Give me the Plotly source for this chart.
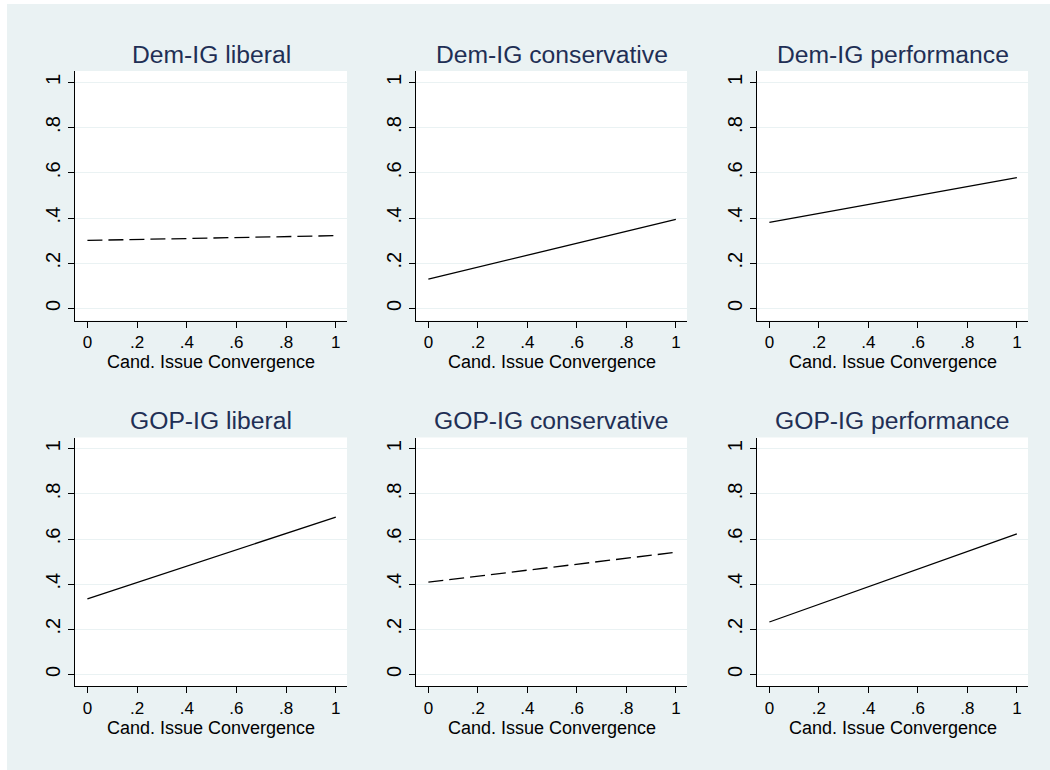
import plotly.graph_objects as go

titles = ["Dem-IG liberal", "Dem-IG conservative", "Dem-IG performance",
          "GOP-IG liberal", "GOP-IG conservative", "GOP-IG performance"]
x_vals = [0, 1]
y_dem_lib = [0.301, 0.322]
y_dem_con = [0.130, 0.394]
y_dem_perf = [0.381, 0.579]
y_gop_lib = [0.335, 0.697]
y_gop_con = [0.409, 0.541]
y_gop_perf = [0.232, 0.623]
series = [y_dem_lib, y_dem_con, y_dem_perf, y_gop_lib, y_gop_con, y_gop_perf]
dashed = [True, False, False, False, True, False]
tick_vals = [0, 0.2, 0.4, 0.6, 0.8, 1]
tick_text = ["0", ".2", ".4", ".6", ".8", "1"]
x_title = "Cand. Issue Convergence"

W, H = 1050, 770
BG = "#EAF2F3"
TITLE_COLOR = "#1F2F55"
FONT = "Liberation Sans, Arial, sans-serif"

col_px = [(75, 347), (416, 687), (757, 1028)]
row_px = [(71, 320.5), (437.5, 686.3)]

fig = go.Figure()
layout = dict(
    width=W, height=H, paper_bgcolor=BG, plot_bgcolor="white",
    margin=dict(l=0, r=0, t=0, b=0), showlegend=False,
    font=dict(family=FONT, color="black", size=18),
)
annotations = []
shapes = [
    dict(type="rect", xref="paper", yref="paper", x0=0, x1=1, y0=1 - 4 / H, y1=1,
         fillcolor="white", line=dict(width=0), layer="above"),
    dict(type="rect", xref="paper", yref="paper", x0=0, x1=7 / W, y0=0, y1=1,
         fillcolor="white", line=dict(width=0), layer="above"),
]

for i, (t, ys, d) in enumerate(zip(titles, series, dashed)):
    r, c = divmod(i, 3)
    n = "" if i == 0 else str(i + 1)
    x0, x1 = col_px[c]
    yt, yb = row_px[r]
    fig.add_trace(go.Scatter(
        x=x_vals, y=ys, mode="lines", xaxis="x" + n, yaxis="y" + n,
        line=dict(color="black", width=1.3, dash="15px,6px" if d else "solid"),
        hoverinfo="skip"))
    layout["xaxis" + n] = dict(
        domain=[x0 / W, x1 / W], anchor="y" + n, range=[-0.05, 1.045],
        tickvals=tick_vals, ticktext=tick_text, ticks="outside", ticklen=6,
        tickwidth=1.2, tickcolor="black", showline=True, linecolor="black",
        linewidth=1.2, showgrid=False, zeroline=False,
        tickfont=dict(family=FONT, size=17, color="black"), fixedrange=True)
    layout["yaxis" + n] = dict(
        domain=[1 - yb / H, 1 - yt / H], anchor="x" + n, range=[-0.053, 1.05],
        tickvals=tick_vals, ticktext=tick_text, ticks="outside", ticklen=6,
        tickwidth=1.2, tickcolor="black", showline=True, linecolor="black",
        linewidth=1.2, showgrid=True, gridcolor=BG, gridwidth=1.2, zeroline=False,
        tickangle=-90, tickfont=dict(family=FONT, size=20, color="black"),
        fixedrange=True)
    cx = (x0 + x1) / 2 / W
    annotations.append(dict(
        text=t, xref="paper", yref="paper", x=cx, y=1 - (yt - 17) / H,
        xanchor="center", yanchor="middle", showarrow=False,
        font=dict(family=FONT, size=24.7, color=TITLE_COLOR)))
    annotations.append(dict(
        text=x_title, xref="paper", yref="paper", x=cx, y=1 - (yb + 42) / H,
        xanchor="center", yanchor="middle", showarrow=False,
        font=dict(family=FONT, size=18, color="black")))

layout["annotations"] = annotations
layout["shapes"] = shapes
fig.update_layout(**layout)
fig.write_html(
    "out.html",
    config={"displayModeBar": False},
    post_script=("document.body.style.margin='0';"
                 "document.body.style.overflow='hidden';"
                 "document.body.style.background='" + BG + "';"),
)
